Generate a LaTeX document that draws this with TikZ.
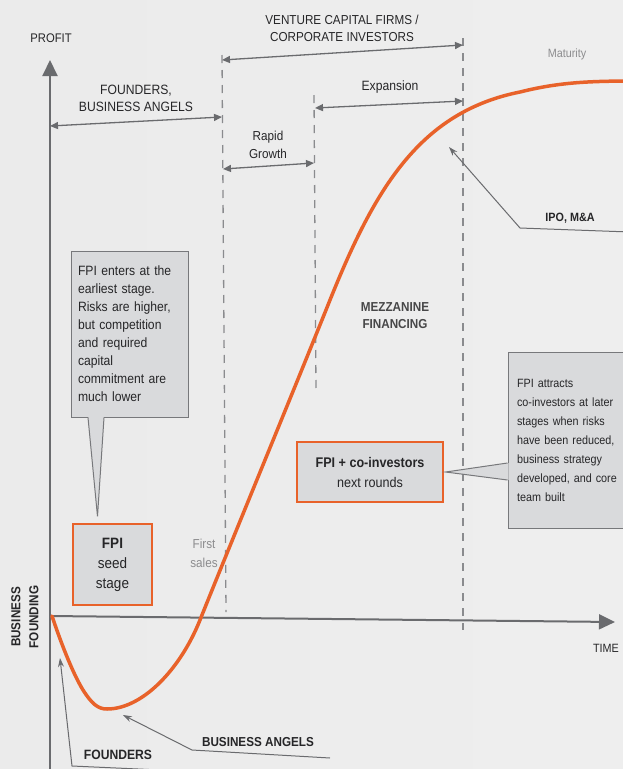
\documentclass[tikz,border=0pt]{standalone}
\usepackage{fontspec}
\setmainfont{Liberation Sans}[FakeStretch=0.9]
\usepackage{xcolor}
\usepackage{tikz}
\usetikzlibrary{arrows.meta, positioning, calc}
\definecolor{fpiorange}{HTML}{E8622A}
\definecolor{axisgray}{HTML}{6A6B6E}
\definecolor{guidegray}{HTML}{8A8B8E}
\definecolor{textdark}{HTML}{262628}
\definecolor{faintgray}{HTML}{8C8C8E}
\definecolor{notefill}{HTML}{D9DADC}
\definecolor{boxedge}{HTML}{77787B}
\tikzset{
    axisline/.style={draw=axisgray, line width=2pt, -{Triangle[length=16pt,width=15pt]}},
    guideline/.style={draw=guidegray, line width=1.3pt, dash pattern=on 8pt off 7pt},
    spanarrow/.style={{Triangle[length=8pt,width=7pt]}-{Triangle[length=8pt,width=7pt]}, draw=axisgray, line width=1.3pt},
    pointer/.style={-{Stealth[length=9pt,width=6pt]}, draw=axisgray, line width=1pt},
    lbl/.style={text=textdark, align=center, inner sep=0pt, font=\fontsize{13}{16}\selectfont},
    lblbold/.style={lbl, font=\fontsize{13}{16}\selectfont\bfseries},
    faint/.style={lbl, text=faintgray},
    note/.style={rectangle, draw=boxedge, fill=notefill, line width=1pt, align=left, inner ysep=0pt, text=textdark},
    tailfill/.style={fill=notefill},
    tailedge/.style={draw=boxedge, line width=1pt, line join=miter},
    fpibox/.style={rectangle, draw=fpiorange, fill=notefill, line width=1.3pt, align=center, text=textdark},
    curve/.style={draw=fpiorange, line width=3.5pt, line cap=round},
}
\begin{document}
\begin{tikzpicture}[x=1pt, y=-1pt]
        \useasboundingbox (0,0) rectangle (623,769);
        \clip (0,0) rectangle (623,769);
        \shade[left color=gray!16, middle color=white, right color=gray!13] (0,0) rectangle (623,769);

        % Axes
        \coordinate (ybot) at (50,769);
        \coordinate (ytop) at (50,60);
        \coordinate (origin) at (50,616);
        \coordinate (xend) at (615,622);
        \draw[axisline] (ybot) -- (ytop);
        \draw[axisline] (origin) -- (xend);
        \node[lbl, font=\fontsize{12.5}{15}\selectfont] (profit) at (51,38) {PROFIT};
        \node[lbl, font=\fontsize{12}{15}\selectfont] (time) at (606,648) {TIME};
        \node[lblbold, rotate=90, font=\fontsize{13}{18}\selectfont\bfseries] (founding) at (25,617) {BUSINESS\\FOUNDING};

        % Stage boundaries
        \coordinate (g1top) at (222,55);
        \coordinate (g1bot) at (226,612);
        \coordinate (g2top) at (314,95);
        \coordinate (g2bot) at (316,390);
        \coordinate (g3top) at (463,38);
        \coordinate (g3bot) at (463,630);
        \draw[guideline] (g1top) -- (g1bot);
        \draw[guideline] (g2top) -- (g2bot);
        \draw[guideline] (g3top) -- (g3bot);

        % Stage spans
        \coordinate (vcL) at (222,60);
        \coordinate (vcR) at (463,45);
        \coordinate (fbL) at (50,126);
        \coordinate (fbR) at (222,117);
        \coordinate (rgL) at (223,169);
        \coordinate (rgR) at (314,163);
        \coordinate (exL) at (315,108);
        \coordinate (exR) at (463,101);
        \draw[spanarrow] (vcL) -- (vcR);
        \draw[spanarrow] (fbL) -- (fbR);
        \draw[spanarrow] (rgL) -- (rgR);
        \draw[spanarrow] (exL) -- (exR);
        \node[lbl, font=\fontsize{13}{17}\selectfont] (vc) at (342,28) {VENTURE CAPITAL FIRMS /\\CORPORATE INVESTORS};
        \node[lbl, font=\fontsize{13.5}{17}\selectfont] (fb) at (136,98) {FOUNDERS,\\BUSINESS ANGELS};
        \node[lbl, font=\fontsize{13}{18}\selectfont] (rapid) at (268,145) {Rapid\\Growth};
        \node[lbl, font=\fontsize{13.5}{16}\selectfont] (expansion) at (390,87) {Expansion};
        \node[faint, font=\fontsize{12}{15}\selectfont] (maturity) at (567,54) {Maturity};
        \node[lblbold, text=textdark!85, font=\fontsize{13}{17}\selectfont\bfseries] (mezz) at (395,316) {MEZZANINE\\FINANCING};
        \node[faint, font=\fontsize{13}{19}\selectfont] (firstsales) at (204,553) {First\\sales};

        % Curve
        \draw[curve] (52,616) .. controls (60,640) and (72,672) .. (83,690)
            .. controls (92,704) and (98,709) .. (107,709)
            .. controls (142,709) and (180,670) .. (200,620)
            .. controls (230,545) and (300,375) .. (330,300)
            .. controls (375,188) and (420,112) .. (520,92)
            .. controls (560,82) and (590,81) .. (640,81);

        % FPI boxes
        \node[fpibox, minimum width=79pt, minimum height=81pt, font=\fontsize{15}{20}\selectfont] (seed) at (112.5,564.5) {{\bfseries FPI}\\seed\\stage};
        \node[fpibox, minimum width=146pt, minimum height=60pt, font=\fontsize{14}{20}\selectfont] (coinv) at (370,472) {{\bfseries FPI + co-investors}\\next rounds};

        % Callouts
        \node[note, text width=103pt, inner xsep=7pt, minimum height=166pt,
              font=\fontsize{13.5}{18}\selectfont] (early) at (129.5,334)
              {FPI enters at the\\earliest stage.\\Risks are higher,\\but competition\\and required\\capital\\commitment are\\much lower};
        \coordinate (earlyTip) at ([xshift=-15pt,yshift=7pt]seed.north);
        \fill[tailfill] ([xshift=-41.5pt,yshift=1pt]early.south) -- (earlyTip) -- ([xshift=-25.5pt,yshift=1pt]early.south) -- cycle;
        \draw[tailedge] ([xshift=-41.5pt]early.south) -- (earlyTip) -- ([xshift=-25.5pt]early.south);

        \node[note, text width=112pt, inner xsep=9pt, minimum height=176pt,
              font=\fontsize{12}{19}\selectfont] (later) at (573,440)
              {FPI attracts\\co-investors at later\\stages when risks\\have been reduced,\\business strategy\\developed, and core\\team built};
        \coordinate (laterTip) at ([xshift=2pt]coinv.east);
        \fill[tailfill] ([xshift=1pt,yshift=-23pt]later.west) -- (laterTip) -- ([xshift=1pt,yshift=-40pt]later.west) -- cycle;
        \draw[tailedge] ([yshift=-23pt]later.west) -- (laterTip) -- ([yshift=-40pt]later.west);

        % Pointers
        \coordinate (ipoR) at (630,232);
        \coordinate (ipoK) at (520,228);
        \coordinate (ipoTip) at (449,147);
        \draw[pointer] (ipoR) -- (ipoK) -- (ipoTip);
        \node[lblbold, font=\fontsize{12}{15}\selectfont\bfseries] (ipo) at (570,218) {IPO, M\&A};

        \coordinate (baR) at (330,758);
        \coordinate (baK) at (192,750);
        \coordinate (baTip) at (123,715);
        \draw[pointer] (baR) -- (baK) -- (baTip);
        \node[lblbold] (angels) at (258,742) {BUSINESS ANGELS};

        \coordinate (foR) at (160,770);
        \coordinate (foK) at (72,766);
        \coordinate (foTip) at (60,658);
        \draw[pointer] (foR) -- (foK) -- (foTip);
        \node[lblbold, font=\fontsize{13.5}{16}\selectfont\bfseries] (founders) at (118,755) {FOUNDERS};
    \end{tikzpicture}
\end{document}
